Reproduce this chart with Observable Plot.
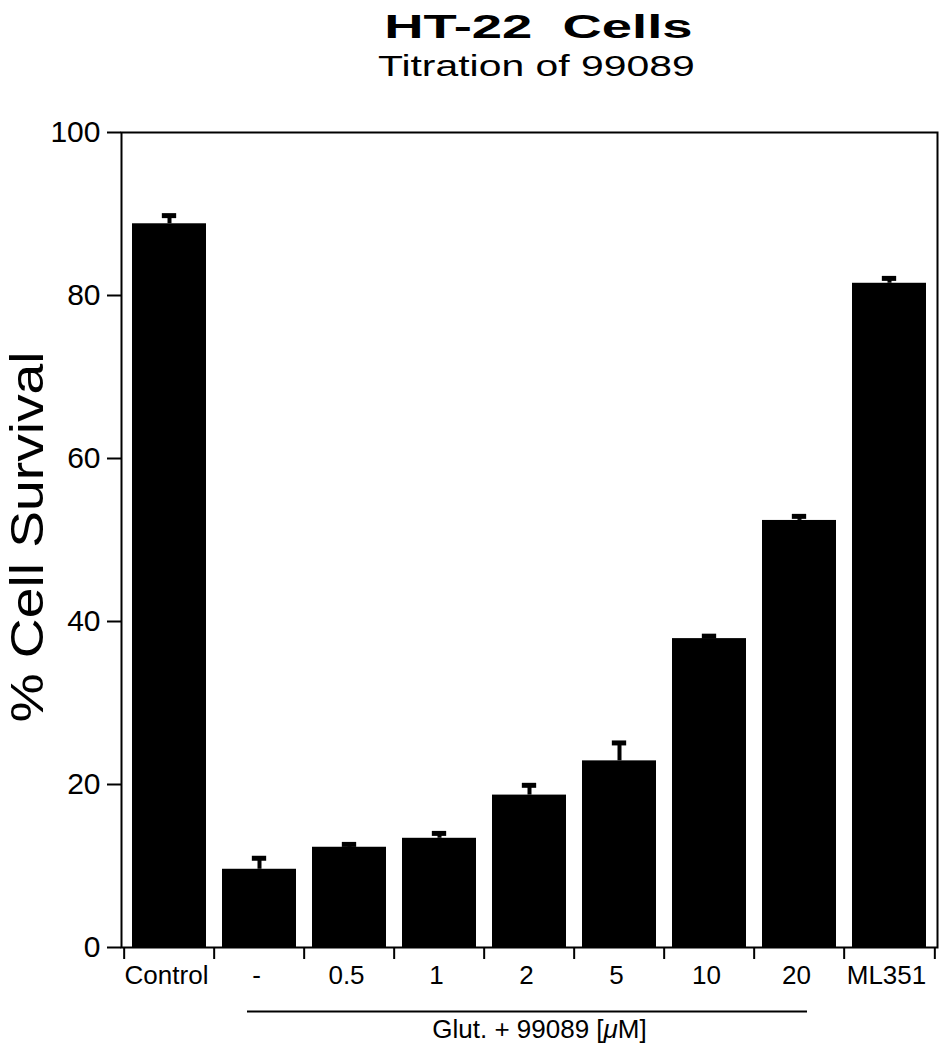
<!DOCTYPE html>
<html><head><meta charset="utf-8">
<script src="https://cdn.jsdelivr.net/npm/d3@7"></script>
<script src="https://cdn.jsdelivr.net/npm/@observablehq/plot@0.6"></script>
<style>
body{margin:0;background:#fff;font-family:"Liberation Sans",Arial,Helvetica,sans-serif;color:#000;}
#wrap{width:940px;}
.title{font-weight:bold;font-size:34px;line-height:40px;height:40px;margin-top:6px;text-align:center;padding-left:136px;white-space:nowrap;}
.sub{font-size:29px;line-height:34px;height:34px;margin-top:3px;text-align:center;padding-left:132px;white-space:nowrap;}
.title span{display:inline-block;transform:scaleX(1.6);}
.sub span{display:inline-block;transform:scaleX(1.41);}
</style></head><body><div id="wrap">
<div class="title"><span>HT-22&nbsp; Cells</span></div>
<div class="sub"><span>Titration of 99089</span></div>
<div id="chart"></div>
</div>
<script>
const categories = ["Control", "-", "0.5", "1", "2", "5", "10", "20", "ML351"];
const survival = [88.8, 9.6, 12.3, 13.4, 18.7, 22.9, 37.9, 52.4, 81.5];
const sem = [1.0, 1.35, 0.35, 0.6, 1.2, 2.2, 0.3, 0.5, 0.6];
const yTicks = [0, 20, 40, 60, 80, 100];
const yTitle = "% Cell Survival";
const groupStart = "-";
const groupEnd = "20";
const groupMid = "2";
const groupLabel = "Glut. + 99089 [μM]";

const data = categories.map((c, i) => ({cat: c, mean: survival[i], hi: survival[i] + sem[i]}));

const W = 940, ML = 121, MR = 3;
const bw = (W - ML - MR) / categories.length;

const chart = Plot.plot({
  width: W,
  height: 967,
  marginTop: 49,
  marginBottom: 103,
  marginLeft: ML,
  marginRight: MR,
  style: {fontFamily: '"Liberation Sans", Arial, Helvetica, sans-serif', color: "#000", background: "#fff"},
  x: {type: "band", domain: categories, padding: 0, label: null},
  y: {domain: [0, 100], label: null},
  marks: [
    Plot.barY(data, {x: "cat", y: "mean", fill: "#000", insetLeft: 8, insetRight: 8}),
    Plot.ruleX(data, {x: "cat", y1: "mean", y2: "hi", stroke: "#000", strokeWidth: 4}),
    Plot.tickY(data, {x: "cat", y: "hi", stroke: "#000", strokeWidth: 5, insetLeft: (bw - 15) / 2, insetRight: (bw - 15) / 2}),
    Plot.frame({stroke: "#000", strokeWidth: 2}),
    Plot.axisY({ticks: yTicks, tickSize: 14, tickPadding: 7, fontSize: 30, label: null, strokeWidth: 2}),
    Plot.axisX({tickSize: 0, tickPadding: 18, fontSize: 26, dx: -3, label: null}),
    Plot.axisX({tickSize: 12, tickFormat: () => "", label: null, dx: -bw / 2, strokeWidth: 2}),
    Plot.axisX({ticks: [categories[categories.length - 1]], tickSize: 12, tickFormat: () => "", label: null, dx: bw / 2, strokeWidth: 2}),
    Plot.ruleY([{start: groupStart, end: groupEnd}], {x1: "start", x2: "end", y: () => 0, dy: 64, insetLeft: 33, insetRight: 37, stroke: "#000", strokeWidth: 2}),
    Plot.text([groupLabel], {x: () => groupMid, frameAnchor: "bottom", dy: 90, dx: 10, text: d => d, fontSize: 26, fill: "#000"}),
    Plot.text([yTitle], {frameAnchor: "left", textAnchor: "middle", rotate: -90, dx: -93, dy: -3, text: d => d, fontSize: 46, fill: "#000"})
  ]
});
document.getElementById("chart").appendChild(chart);

const texts = d3.select(chart).selectAll("text");
texts.filter(function () { return this.textContent === yTitle; })
  .each(function () {
    const tr = this.getAttribute("transform") || "";
    this.setAttribute("transform", tr + " scale(1.2,1)");
  });
texts.filter(function () { return this.textContent === groupLabel; })
  .each(function () {
    const t = this.textContent;
    const i = t.indexOf("μ");
    const s = d3.select(this);
    s.text(null);
    s.append("tspan").text(t.slice(0, i));
    s.append("tspan").attr("font-style", "italic").text("μ");
    s.append("tspan").text(t.slice(i + 1));
  });
</script>
</body></html>
